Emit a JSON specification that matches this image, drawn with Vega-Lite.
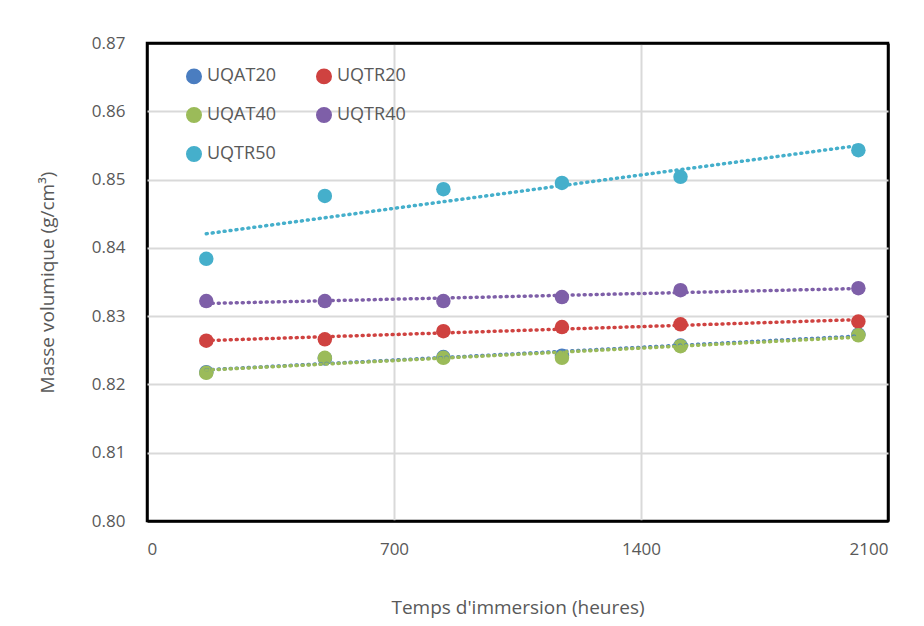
{
  "$schema": "https://vega.github.io/schema/vega-lite/v6.json",
  "autosize": "none",
  "width": 741,
  "height": 478,
  "padding": {"left": 147, "top": 43, "right": 36, "bottom": 105},
  "background": "white",
  "config": {
    "font": "Open Sans",
    "view": {"stroke": "black", "strokeWidth": 2.5},
    "axis": {
      "gridWidth": 2,
      "domain": false,
      "ticks": false,
      "labelFontSize": 17,
      "labelColor": "#595959",
      "labelFont": "Open Sans",
      "titleFont": "Open Sans",
      "titleFontSize": 19,
      "titleFontWeight": "normal",
      "titleColor": "#595959"
    }
  },
  "data": {
    "values": [
      {"s": "UQAT20", "t": 168, "v": 0.8218},
      {"s": "UQAT20", "t": 504, "v": 0.8238},
      {"s": "UQAT20", "t": 840, "v": 0.8240},
      {"s": "UQAT20", "t": 1176, "v": 0.8242},
      {"s": "UQAT20", "t": 1512, "v": 0.8257},
      {"s": "UQAT20", "t": 2016, "v": 0.8273},
      {"s": "UQTR20", "t": 168, "v": 0.8264},
      {"s": "UQTR20", "t": 504, "v": 0.8266},
      {"s": "UQTR20", "t": 840, "v": 0.8278},
      {"s": "UQTR20", "t": 1176, "v": 0.8284},
      {"s": "UQTR20", "t": 1512, "v": 0.8288},
      {"s": "UQTR20", "t": 2016, "v": 0.8292},
      {"s": "UQAT40", "t": 168, "v": 0.8217},
      {"s": "UQAT40", "t": 504, "v": 0.8239},
      {"s": "UQAT40", "t": 840, "v": 0.8239},
      {"s": "UQAT40", "t": 1176, "v": 0.8239},
      {"s": "UQAT40", "t": 1512, "v": 0.8256},
      {"s": "UQAT40", "t": 2016, "v": 0.8272},
      {"s": "UQTR40", "t": 168, "v": 0.8322},
      {"s": "UQTR40", "t": 504, "v": 0.8322},
      {"s": "UQTR40", "t": 840, "v": 0.8322},
      {"s": "UQTR40", "t": 1176, "v": 0.8328},
      {"s": "UQTR40", "t": 1512, "v": 0.8338},
      {"s": "UQTR40", "t": 2016, "v": 0.8341},
      {"s": "UQTR50", "t": 168, "v": 0.8384},
      {"s": "UQTR50", "t": 504, "v": 0.8476},
      {"s": "UQTR50", "t": 840, "v": 0.8486},
      {"s": "UQTR50", "t": 1176, "v": 0.8495},
      {"s": "UQTR50", "t": 1512, "v": 0.8504},
      {"s": "UQTR50", "t": 2016, "v": 0.8543}
    ]
  },
  "layer": [
    {
      "mark": {"type": "point", "filled": true, "shape": "circle", "size": 210, "opacity": 1},
      "encoding": {
        "x": {
          "field": "t", "type": "quantitative",
          "scale": {"domain": [0, 2100], "nice": false},
          "axis": {
            "values": [0, 700, 1400, 2100], "format": "d", "labelPadding": 20,
            "title": "Temps d'immersion (heures)", "titlePadding": 41,
            "gridColor": {"condition": {"test": "datum.value === 0 || datum.value === 2100", "value": "black"}, "value": "#d9d9d9"},
            "gridWidth": {"condition": {"test": "datum.value === 0 || datum.value === 2100", "value": 2.5}, "value": 2}
          }
        },
        "y": {
          "field": "v", "type": "quantitative",
          "scale": {"domain": [0.80, 0.87], "nice": false, "zero": false},
          "axis": {
            "values": [0.80, 0.81, 0.82, 0.83, 0.84, 0.85, 0.86, 0.87], "format": ".2f", "labelPadding": 22,
            "title": "Masse volumique (g/cm³)", "titlePadding": 34,
            "gridColor": {"condition": {"test": "datum.value === 0.8 || datum.value === 0.87", "value": "black"}, "value": "#d9d9d9"},
            "gridWidth": {"condition": {"test": "datum.value === 0.8 || datum.value === 0.87", "value": 2.5}, "value": 2}
          }
        },
        "color": {
          "field": "s", "type": "nominal",
          "scale": {
            "domain": ["UQAT20", "UQTR20", "UQAT40", "UQTR40", "UQTR50"],
            "range": ["#4A7DC0", "#CF4240", "#9BBB59", "#7E5FA8", "#45AFCB"]
          },
          "legend": {
            "orient": "none",
            "legendX": 38,
            "legendY": 24,
            "direction": "horizontal",
            "columns": 2,
            "title": null,
            "symbolType": "circle",
            "symbolSize": 210,
            "symbolOpacity": 1,
            "labelFontSize": 18,
            "labelColor": "#595959",
            "labelFont": "Open Sans",
            "labelOffset": 4,
            "columnPadding": 36,
            "rowPadding": 17
          }
        }
      }
    },
    {
      "transform": [{"regression": "v", "on": "t", "groupby": ["s"]}],
      "mark": {"type": "line", "strokeWidth": 3.5, "strokeDash": [1, 5], "strokeCap": "round"},
      "encoding": {
        "x": {"field": "t", "type": "quantitative"},
        "y": {"field": "v", "type": "quantitative"},
        "color": {"field": "s", "type": "nominal", "legend": null}
      }
    }
  ]
}
